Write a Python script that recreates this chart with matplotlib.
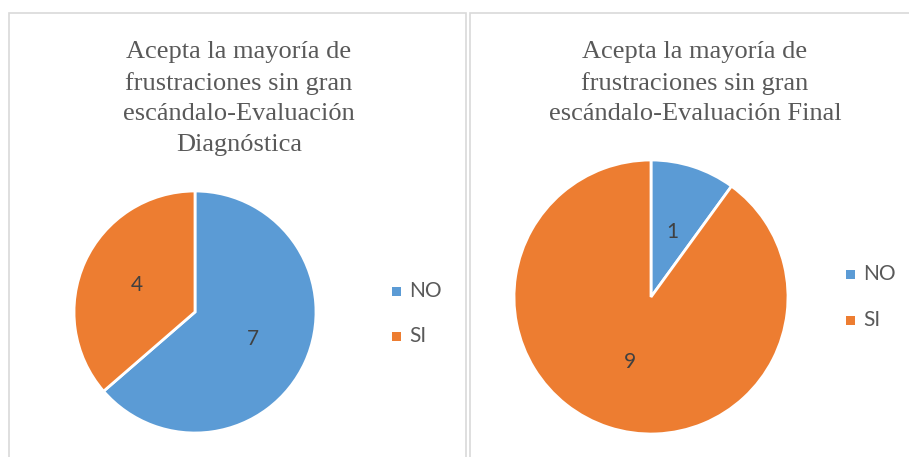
import matplotlib
matplotlib.use("Agg")
import matplotlib.pyplot as plt
from matplotlib.patches import Rectangle

categories = ["NO", "SI"]
diag_values = [7, 4]
final_values = [1, 9]
title_diag = "Acepta la mayoría de\nfrustraciones sin gran\nescándalo-Evaluación\nDiagnóstica"
title_final = "Acepta la mayoría de\nfrustraciones sin gran\nescándalo-Evaluación Final"
colors = ["#5B9BD5", "#ED7D31"]

W, H = 909, 457
fig = plt.figure(figsize=(W / 100, H / 100), dpi=100)
fig.patch.set_facecolor("white")

def px_axes(x0, y0, w, h):
    return fig.add_axes([x0 / W, 1 - (y0 + h) / H, w / W, h / H])

border = "#D9D9D9"
for (x0, y0, x1, y1) in [(9, 13, 466, 460), (470, 13, 912, 460)]:
    fig.add_artist(Rectangle((x0 / W, 1 - y1 / H), (x1 - x0) / W, (y1 - y0) / H,
                             transform=fig.transFigure, fill=False,
                             edgecolor=border, linewidth=1.2))

lab_font = ["Lato", "DejaVu Sans"]

def draw_pie(cx, cy, r, values, labeldist, title, tx, ty, legx, legy, legsp):
    ax = px_axes(cx - r, cy - r, 2 * r, 2 * r)
    wedges, texts = ax.pie(values, colors=colors, startangle=90, counterclock=False,
                           labels=[str(v) for v in values], labeldistance=labeldist,
                           wedgeprops=dict(edgecolor="white", linewidth=2),
                           textprops=dict(color="#404040", fontsize=15, family=lab_font))
    for t in texts:
        t.set_ha("center"); t.set_va("center")
    ax.set_xlim(-1, 1); ax.set_ylim(-1, 1)
    ax.axis("off")
    fig.text(tx / W, 1 - ty / H, title, ha="center", va="top", family="Liberation Serif",
             fontsize=19, color="#595959", linespacing=1.5)
    for i, (c, lab) in enumerate(zip(colors, categories)):
        y = legy + i * legsp
        fig.add_artist(Rectangle(((legx - 4.5) / W, 1 - (y + 4.5) / H), 9 / W, 9 / H,
                                 transform=fig.transFigure, facecolor=c, edgecolor="none"))
        fig.text((legx + 13) / W, 1 - y / H, lab, ha="left", va="center",
                 family=lab_font, fontsize=15, color="#595959")

draw_pie(195, 312, 121, diag_values, 0.53, title_diag, 239, 41, 396.5, 291, 45)
draw_pie(651, 297, 137, final_values, 0.5, title_final, 695, 41, 850, 274, 46)

fig.savefig("out.png", dpi=100, facecolor="white")
